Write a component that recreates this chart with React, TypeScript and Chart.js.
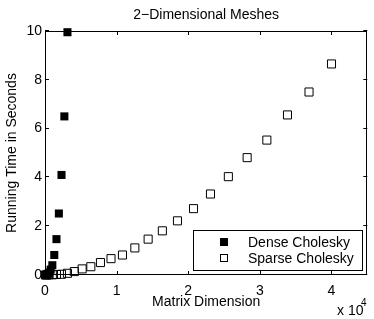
import React, { useEffect, useRef } from "react";
import { Chart, registerables } from "chart.js";
Chart.register(...registerables);

const titleText = "2−Dimensional Meshes";
const xTitle = "Matrix Dimension";
const yTitle = "Running Time in Seconds";
const seriesNames = ["Dense Cholesky", "Sparse Cholesky"];

// x in units of 10^4
const denseX = [0.0064, 0.0144, 0.0256, 0.04, 0.0576, 0.0784, 0.1024, 0.1296, 0.16, 0.1936, 0.2304, 0.2704, 0.3136];
const denseY = [0.0, 0.01, 0.02, 0.05, 0.1, 0.22, 0.4, 0.82, 1.47, 2.52, 4.1, 6.5, 9.95];
const sparseX = [0.0064, 0.0256, 0.0576, 0.1024, 0.16, 0.2304, 0.3136, 0.4096, 0.5184, 0.64, 0.7744, 0.9216, 1.0816, 1.2544, 1.44, 1.6384, 1.8496, 2.0736, 2.3104, 2.56, 2.8224, 3.0976, 3.3856, 3.6864, 4.0];
const sparseY = [0.0, 0.0, 0.01, 0.01, 0.02, 0.03, 0.07, 0.14, 0.25, 0.34, 0.51, 0.67, 0.82, 1.11, 1.47, 1.81, 2.22, 2.72, 3.32, 4.03, 4.81, 5.53, 6.56, 7.5, 8.65];
const xTicks = [0, 1, 2, 3, 4];
const yTicks = [0, 2, 4, 6, 8, 10];

const FONT = "'Liberation Sans', Arial, Helvetica, sans-serif";

const decorPlugin = {
  id: "decor",
  afterDraw(chart: any) {
    const { ctx, chartArea } = chart;
    const { left, right, top, bottom } = chartArea;
    const xs = chart.scales.x;
    const ys = chart.scales.y;
    ctx.save();
    ctx.strokeStyle = "#000";
    ctx.lineWidth = 1;
    // box
    ctx.strokeRect(Math.round(left) + 0.5, Math.round(top) + 0.5, Math.round(right - left) - 1, Math.round(bottom - top) - 1);
    const tl = 4;
    ctx.beginPath();
    xTicks.forEach((v) => {
      const px = Math.round(xs.getPixelForValue(v)) + 0.5;
      ctx.moveTo(px, bottom);
      ctx.lineTo(px, bottom - tl);
      ctx.moveTo(px, top);
      ctx.lineTo(px, top + tl);
    });
    yTicks.forEach((v) => {
      const py = Math.round(ys.getPixelForValue(v)) - 0.5;
      ctx.moveTo(left, py);
      ctx.lineTo(left + tl, py);
      ctx.moveTo(right, py);
      ctx.lineTo(right - tl, py);
    });
    ctx.stroke();

    // title
    ctx.fillStyle = "#000";
    ctx.font = `14px ${FONT}`;
    ctx.textAlign = "center";
    ctx.textBaseline = "middle";
    ctx.fillText(titleText, (left + right) / 2, 15);

    // multiplier
    ctx.textAlign = "left";
    ctx.fillText("x 10", 337, 311);
    ctx.font = `10px ${FONT}`;
    ctx.fillText("4", 361, 303);

    // legend
    const lx = 193, ly = 230, lw = 170, lh = 41;
    ctx.fillStyle = "#fff";
    ctx.fillRect(lx, ly, lw, lh);
    ctx.strokeRect(lx + 0.5, ly + 0.5, lw - 1, lh - 1);
    ctx.fillStyle = "#000";
    ctx.fillRect(220, 238, 8, 8);
    ctx.strokeRect(220.5, 254.5, 7, 7);
    ctx.font = `14px ${FONT}`;
    ctx.textAlign = "left";
    ctx.textBaseline = "middle";
    ctx.fillText(seriesNames[0], 248, 243);
    ctx.fillText(seriesNames[1], 248, 259);
    ctx.restore();
  },
};

export default function App() {
  const ref = useRef<HTMLCanvasElement>(null);
  useEffect(() => {
    const canvas = ref.current;
    if (!canvas) return;
    const chart = new Chart(canvas, {
      type: "scatter",
      data: {
        datasets: [
          {
            label: seriesNames[0],
            data: denseX.map((x, i) => ({ x, y: denseY[i] })),
            pointStyle: "rect",
            pointRadius: 5.7,
            backgroundColor: "#000",
            borderColor: "#000",
            borderWidth: 0,
            clip: false,
          } as any,
          {
            label: seriesNames[1],
            data: sparseX.map((x, i) => ({ x, y: sparseY[i] })),
            pointStyle: "rect",
            pointRadius: 5.7,
            backgroundColor: "rgba(0,0,0,0)",
            borderColor: "#000",
            borderWidth: 1,
            clip: false,
          } as any,
        ],
      },
      options: {
        animation: false,
        responsive: false,
        maintainAspectRatio: false,
        layout: { padding: { top: 31, right: 5, left: 0, bottom: 0 } },
        plugins: { legend: { display: false }, tooltip: { enabled: false }, title: { display: false } },
        scales: {
          x: {
            type: "linear",
            min: 0,
            max: 4.5,
            afterFit: (s: any) => { s.height = 44; },
            afterBuildTicks: (s: any) => { s.ticks = xTicks.map((v) => ({ value: v })); },
            grid: { display: false, drawTicks: false },
            border: { display: false },
            ticks: { color: "#000", font: { family: FONT, size: 14 }, padding: 8, maxRotation: 0, autoSkip: false, callback: (v: any) => String(v) },
            title: { display: true, text: xTitle, color: "#000", font: { family: FONT, size: 14 }, padding: { top: 0, bottom: 8 } },
          },
          y: {
            type: "linear",
            min: 0,
            max: 10,
            afterFit: (s: any) => { s.width = 45; },
            afterBuildTicks: (s: any) => { s.ticks = yTicks.map((v) => ({ value: v })); },
            grid: { display: false, drawTicks: false },
            border: { display: false },
            ticks: { color: "#000", font: { family: FONT, size: 14 }, padding: 3, autoSkip: false, callback: (v: any) => String(v) },
            title: { display: true, text: yTitle, color: "#000", font: { family: FONT, size: 14 }, padding: { top: 4, bottom: 0 } },
          },
        },
      },
      plugins: [decorPlugin],
    });
    return () => chart.destroy();
  }, []);
  return (
    <div style={{ position: "fixed", left: 0, top: 0, width: 374, height: 319, background: "#fff" }}>
      <canvas ref={ref} width={374} height={319} style={{ width: 374, height: 319, display: "block" }} />
    </div>
  );
}
